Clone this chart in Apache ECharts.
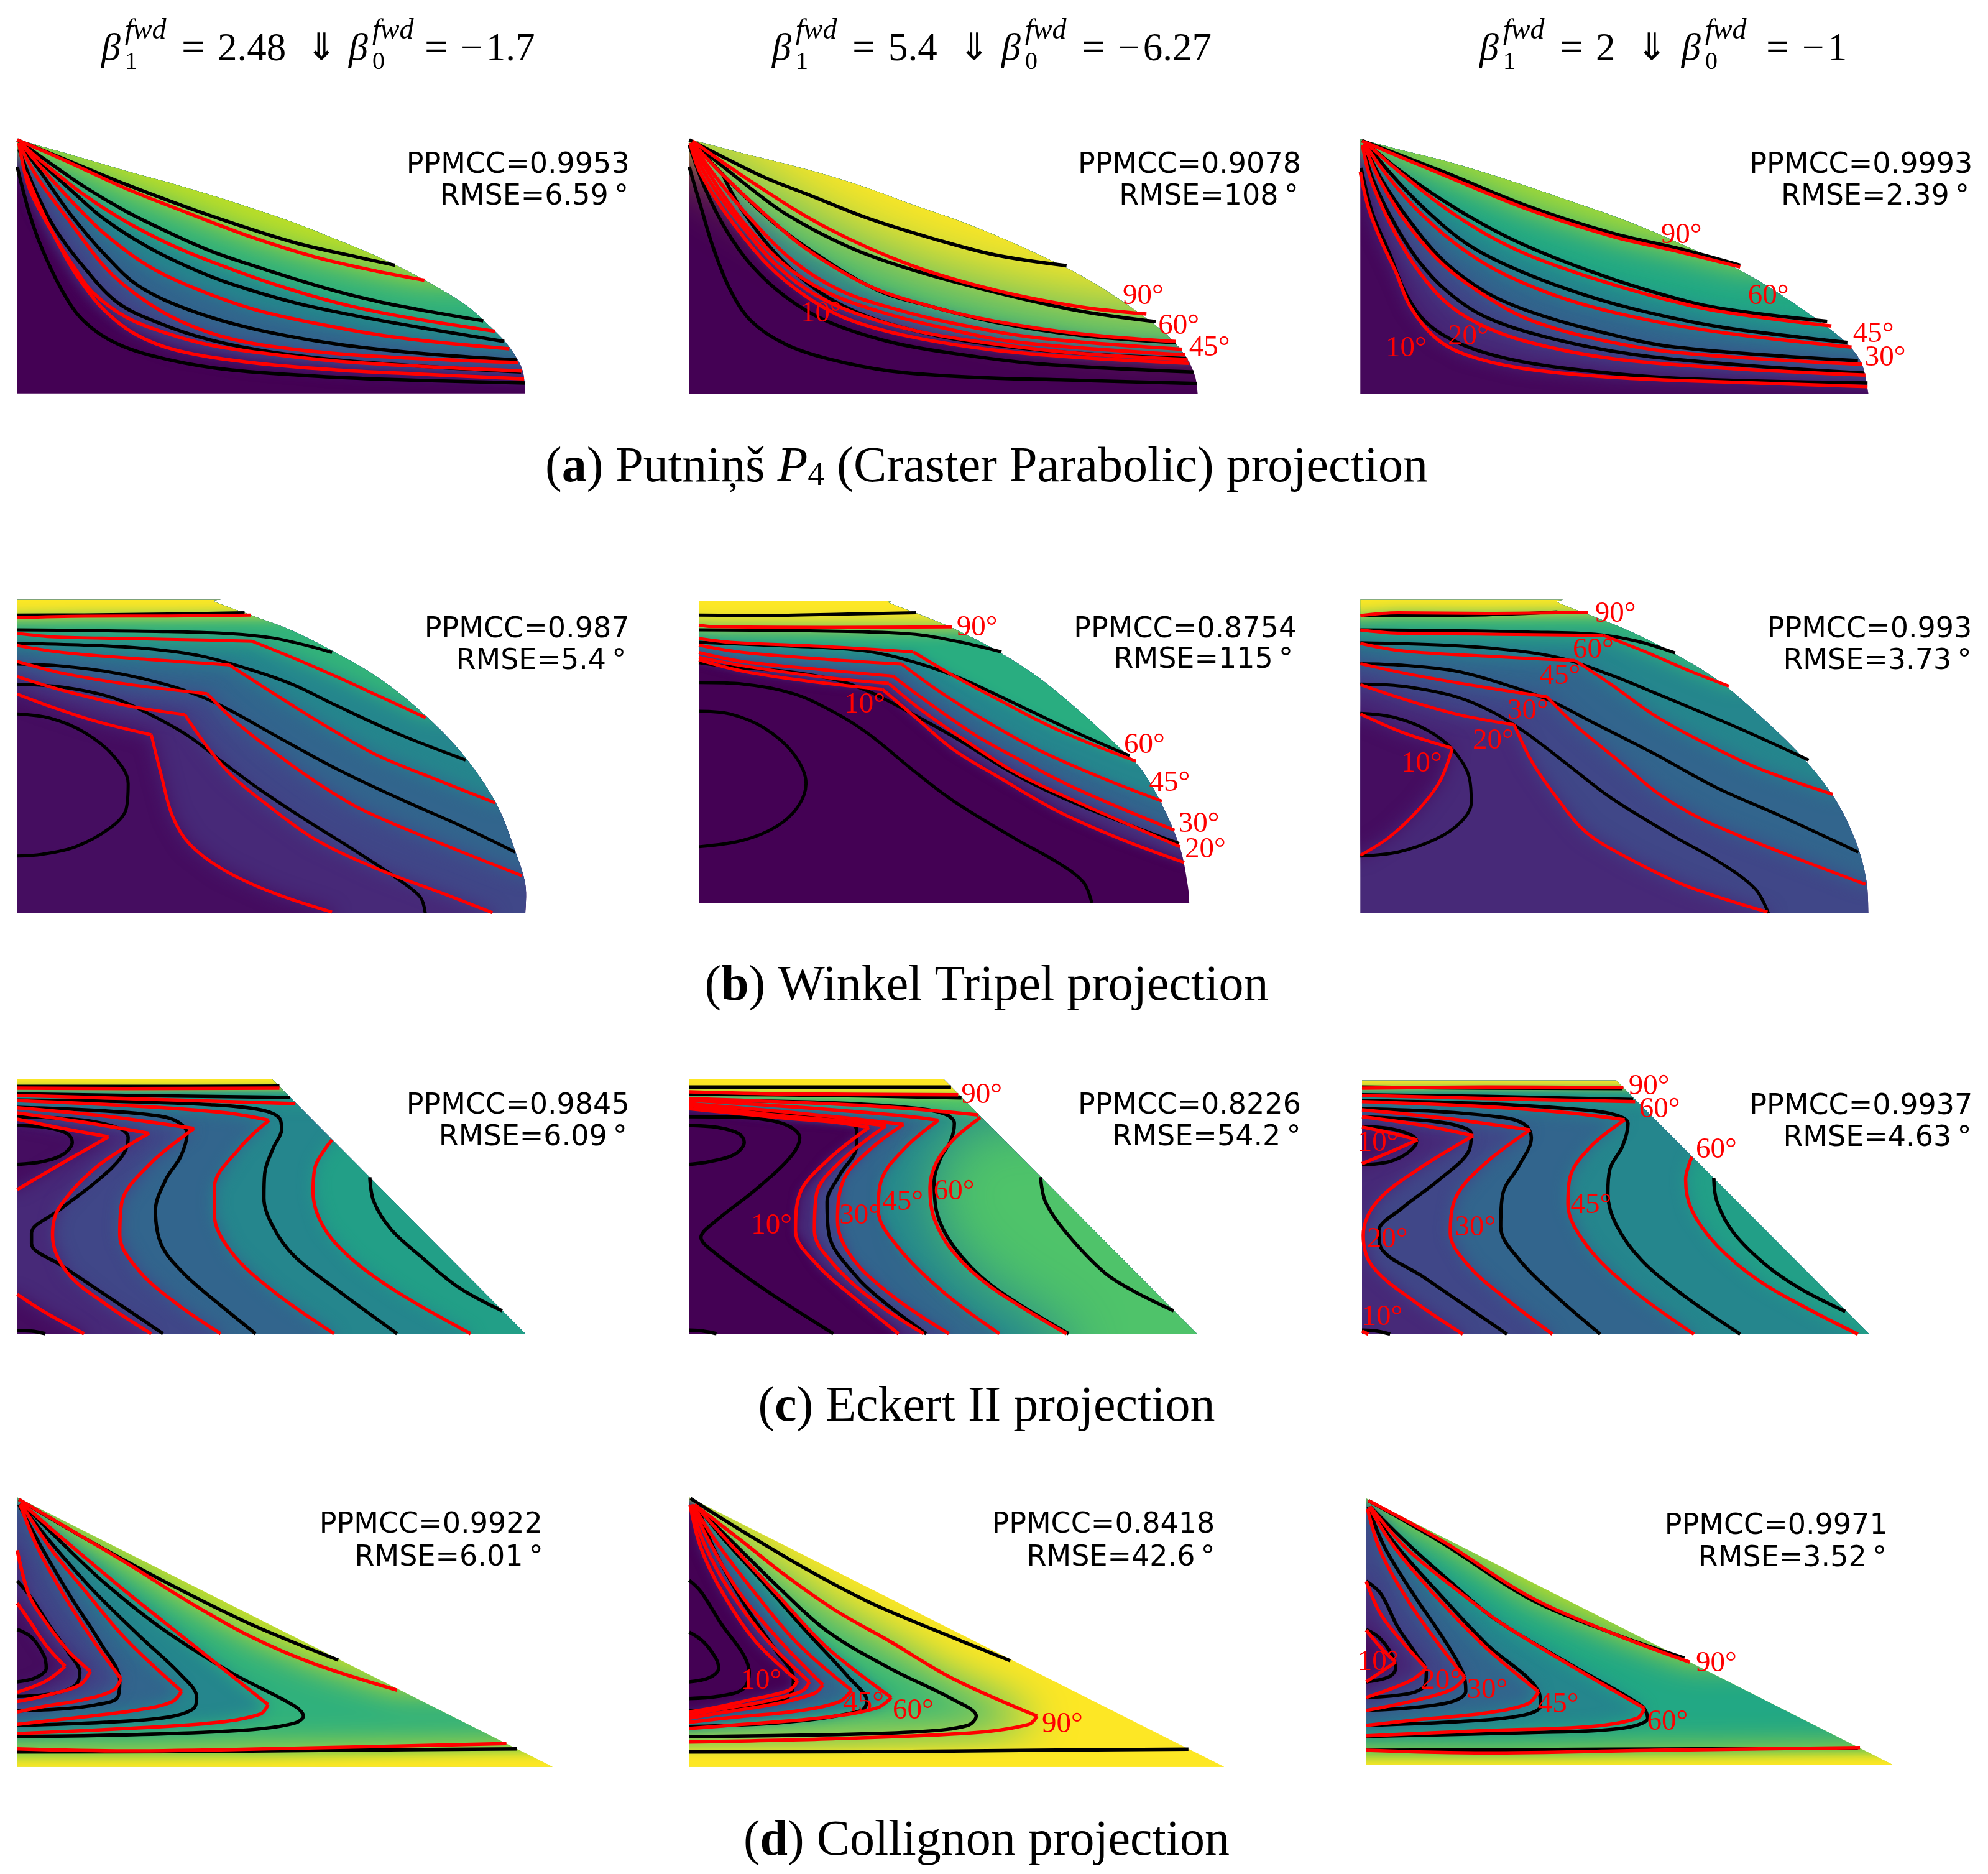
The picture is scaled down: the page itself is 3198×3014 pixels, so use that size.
<!DOCTYPE html>
<html><head><meta charset="utf-8">
<style>html,body{margin:0;padding:0;background:#fff}#main{width:3198px;height:3014px}</style>
<script src="https://cdn.jsdelivr.net/npm/echarts@6/dist/echarts.min.js"></script>
</head><body><div id="main"></div>
<script>
// ---------- DATA (a 0 inside a contour marks a sharp corner) ----------
const levelsDeg = [10,20,30,45,60,90];

const A1_outline=[[41,72],[100,107],[200,165],[300,225],[400,280],[500,340],[600,405],[700,475],[800,555],[900,640],[1000,740],[1100,860],[1150,945],[1200,1045],[1230,1130],[1245,1200],[1250,1298],0,[41,1298]];
const A1_black=[[[41,75],[150,165],[300,290],[500,440],[700,570],[850,640],[940,680]],
[[41,75],[100,160],[200,300],[300,420],[400,520],[500,610],[600,680],[700,745],[800,805],[900,855],[1000,895],[1150,948]],
[[60,110],[100,190],[170,320],[250,460],[350,590],[450,690],[550,770],[700,860],[850,925],[1000,980],[1200,1048]],
[[50,100],[100,240],[170,440],[250,630],[330,780],[450,895],[600,985],[800,1060],[1000,1105],[1230,1137]],
[[45,120],[80,300],[130,500],[200,690],[280,860],[380,960],[500,1040],[650,1100],[850,1145],[1240,1195]],
[[41,205],[70,430],[100,600],[150,810],[200,950],[280,1060],[400,1135],[550,1185],[800,1220],[1000,1235],[1250,1248]]];
const A1_red=[[[[60,230],[100,420],[140,580],[180,720],[240,880],[320,1010],[420,1090],[600,1150],[800,1185],[1000,1205],[1247,1228]]],
[[[45,90],[70,310],[130,540],[180,700],[220,810],[300,930],[400,1010],[500,1065],[650,1110],[850,1150],[1242,1190]]],
[[[45,90],[90,260],[170,480],[250,690],[330,830],[430,950],[550,1035],[700,1085],[900,1120],[1233,1150]]],
[[[50,90],[90,190],[170,370],[250,530],[350,680],[450,780],[600,890],[750,960],[950,1030],[1212,1083]]],
[[[50,90],[100,180],[200,340],[300,470],[400,575],[500,660],[650,770],[800,860],[950,925],[1178,998]]],
[[[41,75],[150,170],[300,310],[450,430],[600,545],[750,640],[900,710],[1010,752]]]];
const A1_labels=[];
const A1_stats=['PPMCC=0.9953',970,187,'RMSE=6.59\u2009°',1050,340];

const A2_outline=[[72,72],[200,140],[300,190],[400,245],[500,310],[600,385],[700,455],[800,535],[900,625],[1000,725],[1100,850],[1200,1000],[1250,1110],[1275,1210],[1282,1300],0,[72,1300]];
const A2_black=[[[72,75],[150,155],[250,255],[350,335],[500,455],[650,550],[800,630],[970,682]],
[[80,85],[200,280],[300,430],[450,590],[600,700],[800,810],[1000,900],[1182,952]],
[[100,130],[170,280],[270,470],[370,620],[520,800],[650,880],[800,955],[1000,1018],[1230,1054]],
[[150,235],[200,420],[290,650],[390,820],[500,930],[650,1015],[800,1065],[1000,1105],[1255,1130]],
[[72,100],[110,310],[160,510],[220,680],[300,830],[400,950],[550,1050],[700,1105],[900,1155],[1272,1195]],
[[72,205],[100,400],[130,600],[170,800],[220,950],[300,1060],[400,1130],[550,1190],[750,1220],[1000,1235],[1280,1250]]];
const A2_red=[[[[74,90],[100,240],[170,460],[260,680],[350,830],[450,940],[600,1025],[800,1090],[1000,1125],[1262,1153]]],
[[[76,90],[110,240],[190,470],[280,680],[370,820],[480,920],[620,1000],[800,1060],[1000,1105],[1258,1135]]],
[[[78,90],[120,240],[200,470],[300,680],[400,810],[520,900],[650,970],[850,1050],[1252,1112]]],
[[[80,90],[130,240],[220,460],[320,660],[430,800],[560,890],[700,960],[900,1030],[1245,1085]]],
[[[80,90],[150,240],[250,430],[350,600],[500,780],[650,880],[800,950],[1000,1010],[1230,1048]]],
[[[80,80],[230,290],[400,500],[600,680],[800,800],[1000,880],[1160,915]]]];
const A2_labels=[['90°',1152,830],['60°',1237,975],['45°',1310,1080],['10°',386,915]];
const A2_stats=['PPMCC=0.9078',1000,187,'RMSE=108\u2009°',1098,340];

const A3_outline=[[101,72],[200,125],[300,175],[400,235],[500,300],[600,370],[700,440],[800,520],[900,610],[1000,700],[1100,820],[1200,960],[1260,1060],[1295,1160],[1310,1300],0,[101,1300]];
const A3_black=[[[105,78],[300,230],[500,395],[700,525],[860,600],[1005,680]],
[[115,90],[200,230],[300,370],[400,490],[500,590],[650,710],[800,810],[950,885],[1212,950]],
[[115,90],[170,230],[250,400],[350,570],[450,680],[600,800],[750,890],[950,975],[1260,1052]],
[[110,95],[150,260],[220,470],[300,660],[400,810],[500,900],[650,990],[850,1075],[1285,1140]],
[[108,100],[130,260],[180,470],[240,660],[310,810],[400,930],[550,1030],[750,1110],[1000,1160],[1300,1200]],
[[103,210],[130,430],[170,620],[210,820],[260,960],[340,1060],[450,1130],[600,1180],[850,1225],[1308,1248]]];
const A3_red=[[[[101,230],[120,400],[150,560],[185,710],[220,880],[280,1030],[350,1110],[480,1175],[700,1220],[1000,1245],[1308,1265]]],
[[[106,100],[125,260],[170,470],[230,680],[300,850],[380,960],[500,1050],[700,1130],[1000,1180],[1303,1210]]],
[[[110,95],[150,280],[220,500],[300,680],[400,830],[500,940],[650,1030],[850,1100],[1295,1158]]],
[[[112,95],[170,260],[250,440],[350,610],[450,730],[600,850],[800,950],[1000,1015],[1270,1075]]],
[[[115,90],[200,240],[300,400],[400,530],[500,630],[650,740],[800,830],[950,900],[1222,973]]],
[[[105,80],[300,245],[500,410],[700,540],[860,615],[1005,688]]]];
const A3_labels=[['90°',865,535],['60°',1072,830],['45°',1322,1012],['30°',1350,1128],['20°',358,1025],['10°',210,1083]];
const A3_stats=['PPMCC=0.9993',1030,187,'RMSE=2.39\u2009°',1105,340];

const B1_outline=[[41,72],0,[525,72],0,[512,82],[600,145],[700,220],[800,320],[900,435],[1000,590],[1100,790],[1180,1020],[1225,1240],[1250,1400],[1250,1535],0,[41,1535]];
const B1_black=[[[41,143],[200,142],[400,138],[582,132]],
[[41,212],[200,215],[400,220],[550,230],[650,250],[730,285],[790,318]],
[[41,275],[200,283],[350,300],[480,335],[600,400],[700,470],[800,565],[950,700],[1108,820]],
[[41,372],[150,382],[280,415],[400,470],[480,525],[550,590],[650,700],[800,860],[950,1000],[1100,1130],[1226,1250]],
[[41,467],[150,480],[270,530],[360,610],[450,710],[530,830],[620,960],[720,1090],[850,1250],[950,1380],[1000,1460],[1012,1535]],
[[41,605],[120,625],[200,690],[270,800],[305,930],[300,1050],[260,1140],[180,1225],[100,1260],[41,1268]]];
const B1_red=[[[[41,512],[120,570],[230,640],[360,702],0,[385,900],[410,1080],[450,1210],[530,1330],[650,1440],[790,1530]]],
[[[41,430],[150,495],[300,565],[440,608],0,[490,750],[550,890],[630,1020],[750,1190],[900,1330],[1050,1440],[1172,1533]]],
[[[41,360],[150,415],[300,465],[493,510],0,[560,640],[650,780],[750,920],[850,1040],[1000,1170],[1242,1360]]],
[[[41,285],[150,318],[350,350],[545,375],0,[620,470],[700,570],[800,690],[900,800],[1050,920],[1178,1020]]],
[[[41,228],[130,245],[300,252],[500,260],[600,265],0,[700,345],[800,430],[900,520],[1013,622]]],
[[[41,155],[200,148],[400,147],[597,143]]]];
const B1_labels=[];
const B1_stats=['PPMCC=0.987',1013,200,'RMSE=5.4\u2009°',1088,348];

const B2_outline=[[95,78],0,[553,78],0,[550,88],[620,140],[700,205],[800,305],[900,430],[1000,590],[1100,770],[1150,870],[1200,1040],[1240,1230],[1258,1400],[1262,1487],0,[95,1487]];
const B2_black=[[[95,143],[250,145],[450,138],[612,132]],
[[95,212],[300,215],[500,222],[620,235],[720,270],[815,315]],
[[95,270],[250,283],[420,298],[520,320],[620,370],[720,440],[830,540],[980,680],[1120,800]],
[[95,365],[170,385],[300,405],[420,445],[500,500],[580,580],[700,710],[850,890],[1000,1030],[1238,1210]],
[[95,458],[200,465],[320,510],[420,600],[500,700],[600,860],[700,1010],[850,1190],[950,1300],[1010,1390],[1030,1487]],
[[95,592],[170,605],[250,670],[320,790],[350,930],[330,1040],[280,1130],[200,1195],[95,1225]]];
const B2_red=[[[[95,352],[200,405],[350,450],[532,490],0,[610,620],[700,770],[800,890],[950,1060],[1100,1190],[1250,1298]]],
[[[95,340],[200,380],[400,435],[547,462],0,[620,580],[730,730],[850,880],[1000,1020],[1240,1225]]],
[[[95,318],[200,360],[400,400],[557,428],0,[640,550],[750,700],[850,810],[1000,960],[1227,1148]]],
[[[95,283],[190,315],[400,350],[578,372],0,[660,490],[780,640],[900,770],[1050,900],[1197,1012]]],
[[[95,252],[170,270],[400,290],[605,315],0,[700,425],[800,530],[950,680],[1135,825]]],
[[[95,190],[130,197],[400,200],[697,198]]]];
const B2_labels=[['90°',757,203],['60°',1155,750],['45°',1215,927],['30°',1285,1120],['20°',1300,1240],['10°',490,562]];
const B2_stats=['PPMCC=0.8754',990,200,'RMSE=115\u2009°',1085,342];

const B3_outline=[[101,72],0,[583,72],0,[572,85],[650,145],[750,225],[850,325],[950,445],[1050,610],[1150,800],[1230,1000],[1280,1200],[1305,1380],[1310,1535],0,[101,1535]];
const B3_black=[[[110,145],[400,142],[570,128]],
[[101,212],[300,215],[500,222],[660,232],[760,265],[850,320]],
[[101,272],[300,283],[450,305],[580,345],[700,425],[800,505],[1000,670],[1168,820]],
[[101,370],[200,377],[330,405],[450,470],[550,540],[650,640],[800,790],[950,950],[1100,1080],[1286,1250]],
[[101,465],[200,475],[330,525],[420,600],[500,700],[600,850],[700,1000],[850,1180],[950,1290],[1040,1420],[1072,1535]],
[[101,602],[180,620],[260,680],[320,770],[360,900],[365,1020],[340,1110],[280,1190],[190,1250],[101,1268]]];
const B3_red=[[],
[[[101,468],[220,545],[340,610],[467,655],0,[510,830],[570,1000],[640,1160],[750,1290],[880,1410],[1070,1530]]],
[[[101,370],[220,420],[380,475],[545,525],0,[620,670],[720,830],[820,990],[950,1130],[1303,1400]]],
[[[101,275],[200,310],[400,335],[612,355],0,[700,470],[800,610],[900,720],[1050,860],[1225,980]]],
[[[101,212],[190,228],[400,232],[680,238],0,[780,315],[880,400],[978,475]]],
[[[101,145],[190,132],[400,135],[642,130]]]];
const B3_loops=[[[101,605],[200,690],[320,765],0,[290,920],[240,1050],[170,1180],[101,1265]]];
const B3_labels=[['90°',708,137],['60°',655,308],['45°',576,430],['30°',500,590],['20°',417,730],['10°',247,838]];
const B3_stats=['PPMCC=0.993',1072,200,'RMSE=3.73\u2009°',1110,348];

const C1_outline=[[41,48],0,[648,48],0,[1250,1275],0,[41,1275]];
const C1_black=[[[41,82],[300,82],[665,80]],[[41,118],[300,125],[690,135]],
[[41,148],[300,155],[500,170],[620,195],[665,235],[670,290],[650,380],[630,500],[628,620],[650,760],[700,900],[800,1060],[945,1275]],
[[41,183],[250,200],[380,225],[425,255],[445,310],[430,420],[395,530],[370,680],[385,850],[440,990],[520,1130],[608,1275]],
[[41,228],[200,245],[285,285],[305,330],[290,420],[230,540],[140,680],[75,790],[75,840],[150,950],[260,1100],[388,1275]],
[[41,270],[110,280],[160,310],[172,350],[150,410],[100,445],[41,458]],
[[41,1260],[75,1262],[108,1275]],
[[880,520],[890,640],[930,770],[1000,900],[1090,1050],[1195,1165]]];
const C1_red=[[],
[[[41,210],[200,255],[355,308],0,[230,470],[140,670],[125,800],[160,980],[250,1130],[360,1275]]],
[[[41,185],[250,225],[462,285],0,[360,450],[290,640],[285,800],[330,970],[420,1130],[525,1275]]],
[[[41,150],[350,180],[540,210],[640,245],0,[570,380],[510,570],[510,700],[550,880],[650,1070],[795,1275]]],
[[[41,125],[300,140],[703,165]],[[790,340],[750,470],[745,590],[770,760],[840,920],[950,1080],[1120,1275]]],
[[[41,90],[300,92],[665,90]]]];
const C1_loops=[[[41,240],[150,285],[258,325],0,[150,450],[41,580]],[[41,1085],[110,1175],[200,1275]]];
const C1_labels=[];
const C1_stats=['PPMCC=0.9845',970,165,'RMSE=6.09\u2009°',1047,318];

const C2_outline=[[72,48],0,[678,48],0,[1280,1275],0,[72,1275]];
const C2_black=[[[72,85],[400,85],[695,85]],[[72,120],[400,125],[720,137]],
[[72,148],[400,160],[600,185],[680,215],[703,260],[695,340],[670,430],[655,540],[660,680],[700,850],[790,1040],[975,1275]],
[[72,190],[300,215],[440,245],[470,290],[470,370],[430,510],[400,640],[405,800],[470,1000],[540,1130],[636,1275]],
[[72,228],[200,232],[300,265],[335,330],[310,430],[230,580],[130,740],[100,810],[130,880],[250,1060],[415,1275]],
[[72,270],[140,280],[190,310],[203,350],[180,410],[120,445],[72,458]],
[[72,1258],[105,1262],[137,1275]],
[[908,520],[920,640],[970,790],[1060,980],[1130,1070],[1225,1165]]];
const C2_red=[[[[72,190],[300,235],[420,255],[500,280],0,[400,440],[335,600],[325,780],[380,950],[470,1110],[570,1275]]],
[[[72,175],[300,225],[450,250],[540,272],0,[440,430],[375,600],[370,780],[420,950],[520,1130],[630,1275]]],
[[[72,165],[300,205],[450,235],[582,265],0,[500,390],[440,530],[425,730],[460,910],[560,1100],[690,1275]]],
[[[72,148],[350,185],[560,220],[665,245],0,[590,370],[530,530],[522,680],[570,860],[680,1080],[810,1275]]],
[[[72,140],[400,165],[600,190],[760,220]],[[765,232],[700,340],[660,450],[645,570],[655,720],[700,880],[790,1050],[970,1275]]],
[[[72,108],[300,118],[712,122]]]];
const C2_labels=[['90°',768,125],['60°',702,590],['45°',580,640],['30°',478,708],['10°',268,755]];
const C2_stats=['PPMCC=0.8226',1000,165,'RMSE=54.2\u2009°',1082,318];

const C3_outline=[[105,53],0,[710,53],0,[1312,1277],0,[105,1277]];
const C3_black=[[[105,85],[400,90],[725,92]],[[105,122],[400,130],[750,145]],
[[105,150],[400,165],[600,190],[700,215],[738,260],[725,370],[695,480],[690,600],[710,750],[770,920],[870,1090],[1005,1277]],
[[105,190],[300,205],[450,235],[495,270],[508,330],[480,460],[440,600],[435,760],[480,920],[570,1100],[672,1277]],
[[105,228],[250,245],[330,270],[365,310],[360,390],[290,530],[200,670],[145,780],[150,860],[250,1000],[450,1277]],
[[105,275],[170,285],[220,315],[235,345],[215,400],[170,445],[105,460]],
[[105,1258],[140,1262],[172,1277]],
[[942,522],[950,640],[990,790],[1070,950],[1150,1060],[1255,1168]]];
const C3_red=[[],
[[[105,228],[250,270],[370,320],0,[240,480],[140,640],[108,800],[130,950],[230,1120],[345,1277]]],
[[[105,195],[300,235],[505,292],0,[400,450],[330,610],[315,790],[360,950],[450,1110],[558,1277]]],
[[[105,155],[400,180],[600,210],[730,243],0,[650,370],[600,520],[595,650],[640,850],[740,1050],[895,1277]]],
[[[105,125],[400,140],[755,155]],[[890,422],[875,530],[890,680],[950,850],[1050,1020],[1180,1170],[1285,1277]]],
[[[105,90],[400,85],[727,88]]]];
const C3_loops=[[[105,278],[170,305],[237,340],0,[170,400],[105,455]],[[105,1262],[120,1277]]];
const C3_labels=[['90°',788,83],['60°',813,195],['60°',948,390],['45°',650,657],['30°',375,765],['20°',165,820],['10°',143,355],['10°',153,1195]];
const C3_stats=['PPMCC=0.9937',1030,168,'RMSE=4.63\u2009°',1110,320];

const D1_outline=[[41,55],0,[1315,1355],0,[41,1355]];
const D1_black=[[[45,65],[200,250],[400,470],[600,670],[805,840]],[[41,1283],[400,1282],[800,1275],[1230,1268]],
[[50,80],[150,280],[250,470],[380,680],[550,900],[700,1060],[722,1110],[700,1145],[600,1175],[400,1195],[200,1205],[41,1208]],
[[50,90],[120,270],[220,500],[330,720],[430,910],[468,1020],[460,1075],[400,1115],[250,1140],[41,1155]],
[[45,90],[100,300],[170,540],[240,760],[285,940],[280,1020],[230,1055],[150,1075],[41,1085]],
[[41,458],[75,540],[120,680],[165,810],[190,900],[180,960],[130,1000],[41,1015]],
[[41,692],[75,730],[105,820],[110,880],[85,925],[41,945]]];
const D1_red=[[[[41,565],[70,650],[110,770],[155,870],0,[110,940],[41,995]]],
[[[41,310],[70,530],[110,660],[160,790],[215,895],0,[190,960],[120,1005],[41,1040]]],
[[[48,90],[90,300],[150,520],[220,740],[288,930],0,[270,985],[200,1030],[100,1065],[41,1090]]],
[[[50,85],[120,300],[200,500],[300,740],[432,990],0,[410,1040],[330,1080],[150,1125],[41,1150]]],
[[[50,80],[170,290],[300,510],[430,720],[638,1055],0,[620,1100],[520,1140],[300,1170],[41,1195]]],
[[[45,65],[150,190],[300,370],[450,560],[600,730],[750,860],[945,985]],[[41,1268],[300,1278],[700,1265],[1205,1243]]]];
const D1_labels=[];
const D1_stats=['PPMCC=0.9922',763,177,'RMSE=6.01\u2009°',847,337];
const D1_yellow=[[41,1325],[600,1320],[1245,1300]];

const D2_outline=[[72,55],0,[1345,1355],0,[72,1355]];
const D2_black=[[[75,60],[200,220],[350,400],[500,560],[650,690],[836,843]],[[72,1283],[500,1282],[900,1275],[1260,1270]],
[[95,110],[180,280],[280,480],[400,700],[550,880],[700,1030],[755,1110],[735,1155],[620,1185],[400,1200],[72,1210]],
[[100,120],[160,270],[250,470],[350,700],[450,920],[495,1040],[480,1085],[300,1140],[72,1160]],
[[95,110],[130,300],[200,560],[280,800],[320,930],[315,1000],[280,1040],[180,1070],[72,1085]],
[[72,455],[100,510],[150,670],[200,810],[215,900],[200,980],[140,1015],[72,1025]],
[[72,705],[105,750],[135,830],[142,880],[120,925],[72,945]]];
const D2_red=[[[[74,90],[100,300],[150,510],[230,750],[330,940],0,[310,985],[220,1030],[130,1070],[72,1090]]],
[[[76,90],[110,290],[170,510],[260,750],[358,945],0,[340,990],[250,1040],[150,1075],[72,1105]]],
[[[78,90],[120,270],[190,510],[280,730],[390,960],0,[370,1000],[280,1050],[160,1090],[72,1120]]],
[[[80,90],[140,280],[230,520],[330,760],[458,985],0,[430,1040],[330,1085],[180,1115],[72,1140]]],
[[[85,90],[170,280],[280,520],[400,780],[553,1020],0,[520,1070],[400,1115],[200,1150],[72,1170]]],
[[[85,90],[200,270],[300,430],[420,600],[550,750],[700,930],[900,1110],0,[880,1150],[750,1190],[400,1220],[72,1235]]]];
const D2_labels=[['90°',960,1150],['60°',605,1085],['45°',487,1050],['10°',243,940]];
const D2_stats=['PPMCC=0.8418',795,177,'RMSE=42.6\u2009°',878,337];
const D2_yellow=[[72,1285],[600,1283],[1270,1275]];

const D3_outline=[[115,60],0,[1370,1347],0,[115,1347]];
const D3_black=[[[120,70],[300,280],[500,540],[700,710],[872,830]],[[115,1275],[500,1272],[900,1268],[1285,1265]],
[[125,100],[220,290],[320,470],[420,640],[600,860],[770,1060],[785,1120],[720,1170],[500,1190],[115,1208]],
[[125,100],[180,270],[280,500],[400,760],[525,990],[530,1060],[490,1105],[350,1135],[115,1155]],
[[120,100],[160,300],[230,530],[300,740],[345,900],[352,990],[320,1040],[220,1070],[115,1082]],
[[115,458],[150,520],[190,680],[230,800],[258,900],[255,960],[220,1000],[115,1020]],
[[115,692],[145,730],[175,810],[185,880],[170,920],[115,945]]];
const D3_red=[[[[115,695],[150,780],[185,850],0,[115,945]]],
[[[115,460],[150,620],[200,750],[258,880],0,[220,940],[115,1020]]],
[[[118,110],[150,320],[220,570],[290,770],[350,925],0,[320,980],[240,1030],[115,1083]]],
[[[122,100],[180,290],[280,530],[400,780],[525,992],0,[500,1050],[400,1095],[250,1125],[115,1155]]],
[[[125,100],[210,300],[330,500],[450,680],[777,1072],0,[760,1120],[650,1160],[400,1180],[115,1205]]],
[[[120,70],[300,270],[500,530],[700,710],[885,850]],[[115,1275],[400,1288],[800,1275],[1290,1262]]]];
const D3_labels=[['90°',948,858],['60°',832,1140],['45°',572,1055],['30°',403,985],['20°',293,940],['10°',143,850]];
const D3_stats=['PPMCC=0.9971',828,183,'RMSE=3.52\u2009°',908,340];
const D3_yellow=[[115,1320],[600,1318],[1340,1300]];

// colour value of each band, from below the 10° contour to above the 90° contour
const bandsA1=[0,.115,.21,.325,.455,.64,.9];
const bandsA2=[0,.11,.2,.32,.46,.64,1];
const bandsA3=[.02,.115,.21,.325,.455,.6,.86];
const bandsB=[.035,.115,.21,.325,.455,.65,1];
const bandsB2=[0,.115,.21,.325,.455,.62,1];
const bandsC=[.035,.115,.21,.325,.455,.56,1];
const bandsC2=[0,.115,.21,.325,.455,.72,1];
const bandsD1=[.03,.115,.21,.325,.455,.64,.93];
const bandsD2=[0,.115,.21,.325,.455,.66,1];
const bandsD3=[.03,.115,.21,.325,.455,.6,.9];
const headerLeft=['2.48','5.4','2'];
const headerRight=['−\u200a1.7','−\u200a6.27','−\u200a1'];
const captions=[['a',' Putniņš ','P','4',' (Craster Parabolic) projection'],['b',' Winkel Tripel projection'],['c',' Eckert II projection'],['d',' Collignon projection']];

// ---------- LAYOUT ----------
const cropW=1060, imgW=1568, colX=[0,1060,2120];
const rowCrop=[{y:200,h:460,ih:1380},{y:940,h:540,ih:1568},{y:1720,h:460,ih:1380},{y:2390,h:480,ih:1440}];
const panels=[
 {r:0,c:0,o:A1_outline,b:A1_black,red:A1_red,lab:A1_labels,st:A1_stats,bands:bandsA1,blur:26,topBlur:50},
 {r:0,c:1,o:A2_outline,b:A2_black,red:A2_red,lab:A2_labels,st:A2_stats,bands:bandsA2,blur:16,topBlur:110},
 {r:0,c:2,o:A3_outline,b:A3_black,red:A3_red,lab:A3_labels,st:A3_stats,bands:bandsA3,blur:26,topBlur:50},
 {r:1,c:0,o:B1_outline,b:B1_black,red:B1_red,lab:B1_labels,st:B1_stats,bands:bandsB,blur:30,topBlur:24},
 {r:1,c:1,o:B2_outline,b:B2_black,red:B2_red,lab:B2_labels,st:B2_stats,bands:bandsB2,blur:16,topBlur:30},
 {r:1,c:2,o:B3_outline,b:B3_black,red:B3_red,loops:B3_loops,lab:B3_labels,st:B3_stats,bands:bandsB,blur:30,topBlur:24},
 {r:2,c:0,o:C1_outline,b:C1_black,red:C1_red,loops:C1_loops,lab:C1_labels,st:C1_stats,bands:bandsC,blur:26,topBlur:14},
 {r:2,c:1,o:C2_outline,b:C2_black,red:C2_red,lab:C2_labels,st:C2_stats,bands:bandsC2,blur:16,topBlur:14,blur60:90},
 {r:2,c:2,o:C3_outline,b:C3_black,red:C3_red,loops:C3_loops,lab:C3_labels,st:C3_stats,bands:bandsC,blur:26,topBlur:14},
 {r:3,c:0,o:D1_outline,b:D1_black,red:D1_red,lab:D1_labels,st:D1_stats,bands:bandsD1,blur:26,topBlur:50,inward:true,yellow:D1_yellow},
 {r:3,c:1,o:D2_outline,b:D2_black,red:D2_red,lab:D2_labels,st:D2_stats,bands:bandsD2,blur:18,topBlur:70,inward:true,yellow:D2_yellow},
 {r:3,c:2,o:D3_outline,b:D3_black,red:D3_red,lab:D3_labels,st:D3_stats,bands:bandsD3,blur:26,topBlur:50,inward:true,yellow:D3_yellow}
];

const VIR=[[68,1,84],[72,36,117],[65,68,135],[53,95,141],[42,120,142],[33,145,140],[34,168,132],[68,191,112],[122,209,81],[189,223,38],[253,231,37]];
function vir(v){v=Math.max(0,Math.min(1,v))*10;const i=Math.min(9,Math.floor(v)),t=v-i;
 const c=VIR[i].map((a,k)=>Math.round(a+(VIR[i+1][k]-a)*t));return `rgb(${c[0]},${c[1]},${c[2]})`;}
const flat=p=>p.filter(q=>q!==0);
function segments(p){const out=[];let cur=[];p.forEach(q=>{if(q===0){out.push(cur);cur=[cur[cur.length-1]];}else cur.push(q);});out.push(cur);return out;}
// rounds the drawn edge of a map outline between its corners (the clip shape only)
function roundEdge(o){const out=[];segments(o).forEach(s=>{
  if(s.length<3){out.push(...s);return;}
  for(let i=0;i<s.length-1;i++){const a=s[Math.max(0,i-1)],b=s[i],c=s[i+1],d=s[Math.min(s.length-1,i+2)];
   for(let k=0;k<8;k++){const t=k/8,t2=t*t,t3=t2*t;
    out.push([0,1].map(j=>.5*(2*b[j]+(c[j]-a[j])*t+(2*a[j]-5*b[j]+4*c[j]-d[j])*t2+(3*b[j]-a[j]-3*c[j]+d[j])*t3)));}}
  out.push(s[s.length-1]);});return out;}
const F=500, OFF=9000;

function closeUp(piece,left,bottom){ // region on the high side of a contour
 const p=flat(piece),s=p[0],e=p[p.length-1],R=imgW+F,out=p.slice();
 const B=bottom+F;
 if(e[1]>=bottom-8) out.push([e[0],B],[R,B]); else out.push([R,e[1]]);
 if(s[0]-left>100){out.push([R,s[1]]);return out;}
 out.push([R,-F],[-F,-F],[-F,s[1]]);return out;}
function closeLoop(piece,bottom){const p=flat(piece),s=p[0],e=p[p.length-1],out=p.slice();
 if(e[1]>=bottom-8) out.push([e[0],bottom+F],[-F,bottom+F]); else out.push([-F,e[1]]);
 out.push([-F,s[1]]);return out;}
function closeIn(pieces){
 if(pieces.length===2){const t=flat(pieces[0]),b=flat(pieces[1]),R=imgW+F;
  return t.concat([[R,t[t.length-1][1]],[R,b[b.length-1][1]]],b.slice().reverse(),[[-F,b[0][1]],[-F,t[0][1]]]);}
 return closeLoop(pieces[0],1e9);}

function fieldPolys(P){
 const fo=flat(P.o),left=Math.min(...fo.map(q=>q[0])),bottom=Math.max(...fo.map(q=>q[1]));
 const list=[];
 if(P.inward){
  for(let i=5;i>=0;i--){
   list.push([closeIn(P.red[i]),P.bands[i],i===5?P.topBlur:P.blur]);
   if(i===5){const y=P.yellow;
    list.push([y.concat([[imgW+F,y[y.length-1][1]],[imgW+F,bottom+F],[-F,bottom+F],[-F,y[0][1]]]),1,16]);}
  }
 }else{
  (P.loops||[]).forEach(l=>list.push([closeLoop(l,bottom),P.bands[0],P.blur]));
  P.red.forEach((lv,i)=>lv.forEach(pc=>{
   const bl=i===5?P.topBlur:(i===4&&P.blur60&&lv.length>1&&pc===lv[1]?P.blur60:P.blur);
   list.push([closeUp(pc,left,bottom),P.bands[i+1],bl]);}));
 }
 return list;
}

const grids=[],xAxes=[],yAxes=[],series=[];
panels.forEach((P,idx)=>{
 const rc=rowCrop[P.r];
 grids.push({left:colX[P.c],top:rc.y,width:cropW,height:rc.h,show:false,containLabel:false});
 xAxes.push({type:'value',gridIndex:idx,min:0,max:imgW,show:false});
 yAxes.push({type:'value',gridIndex:idx,min:0,max:rc.ih,inverse:true,show:false});
 const polys=fieldPolys(P), edge=roundEdge(P.o);
 const baseV=P.inward?P.bands[6]:((P.loops&&P.loops.length)?P.bands[1]:P.bands[0]);
 series.push({type:'custom',name:'field'+idx,coordinateSystem:'cartesian2d',xAxisIndex:idx,yAxisIndex:idx,z:1,silent:true,
  data:[[0,0]],
  renderItem:(params,api)=>{
   const toPx=pts=>pts.map(q=>api.coord(q));
   const kids=[{type:'polygon',shape:{points:toPx([[-F,-F],[imgW+F,-F],[imgW+F,rc.ih+F],[-F,rc.ih+F]])},style:{fill:vir(baseV)}}];
   polys.forEach(([pts,v,bl])=>{
    const c=vir(v);
    kids.push({type:'polygon',shape:{points:toPx(pts).map(q=>[q[0]-OFF,q[1]])},
     style:{fill:c,shadowColor:c,shadowBlur:bl,shadowOffsetX:OFF,shadowOffsetY:0}});
   });
   return {type:'group',clipPath:{type:'polygon',shape:{points:toPx(edge)}},children:kids};
  }});
 const w=P.r===1?5:5.5;
 const addLine=(pts,color,z)=>series.push({type:'line',xAxisIndex:idx,yAxisIndex:idx,data:pts,symbol:'none',smooth:0.35,z,silent:true,
   clip:false,lineStyle:{color,width:w,cap:'butt',join:'round'}});
 P.b.forEach(pc=>segments(pc).forEach(s=>addLine(s,'#000',3)));
 P.red.forEach(lv=>lv.forEach(pc=>segments(pc).forEach(s=>addLine(s,'#ff0000',4))));
 (P.loops||[]).forEach(pc=>segments(pc).forEach(s=>addLine(s,'#ff0000',4)));
 series.push({type:'custom',name:'text'+idx,coordinateSystem:'cartesian2d',xAxisIndex:idx,yAxisIndex:idx,z:6,silent:true,
  data:[[0,0]],
  renderItem:(params,api)=>{
   const kids=[];
   P.lab.forEach(l=>{const q=api.coord([l[1],l[2]]);
    kids.push({type:'text',x:q[0],y:q[1],style:{text:l[0],fontFamily:'Liberation Serif',fontSize:47,fill:'#ff0000',align:'center',verticalAlign:'middle'}});});
   [[0,1,2],[3,4,5]].forEach(t=>{const q=api.coord([P.st[t[1]],P.st[t[2]]]);
    kids.push({type:'text',x:q[0]-2,y:q[1]+4,style:{text:P.st[t[0]],fontFamily:'DejaVu Sans',fontSize:46,fill:'#000',align:'left',verticalAlign:'middle'}});});
   return {type:'group',children:kids};
  }});
});

// ---------- headers and captions ----------
const SERIF='Liberation Serif';
const graphics=[];
const txt=(x,y,t,size,opt)=>graphics.push({type:'text',x,y,z:10,silent:true,style:Object.assign({text:t,fontFamily:SERIF,fontSize:size,fill:'#000',align:'left',verticalAlign:'middle'},opt||{})});
const headerX=[[163,292,492,561,683],[1242,1371,1542,1611,1740],[2380,2509,2632,2705,2841]];
headerX.forEach((hx,i)=>{
 const y=80;
 [[hx[0],'1'],[hx[3],'0']].forEach(([bx,sub])=>{
  txt(bx,y,'β',62,{fontStyle:'italic'});
  txt(bx+38,y-30,'fwd',46,{fontStyle:'italic'});
  txt(bx+38,y+20,sub,40);
 });
 txt(hx[1],y,'=',66);
 txt(hx[1]+58,y,headerLeft[i],63);
 txt(hx[2],y,'⇓',60,{fontFamily:'DejaVu Sans'});
 txt(hx[4],y,'=',66);
 txt(hx[4]+58,y,headerRight[i],63);
});
const capY=[753,1587,2264,2962];
captions.forEach((c,i)=>{
 const tail=c.length>2?`${c[1]}{i|${c[2]}}{s|${c[3]}}${c[4]}`:c[1];
 graphics.push({type:'text',x:1587,y:capY[i],z:10,silent:true,style:{
  text:`({b|${c[0]}})${tail}`,fontFamily:SERIF,fontSize:80,fill:'#000',align:'center',verticalAlign:'middle',
  rich:{b:{fontFamily:SERIF,fontSize:80,fontWeight:'bold',fill:'#000'},
        i:{fontFamily:SERIF,fontSize:80,fontStyle:'italic',fill:'#000'},
        s:{fontFamily:SERIF,fontSize:54,fill:'#000',verticalAlign:'bottom',lineHeight:80}}}});
});

const chart=echarts.init(document.getElementById('main'),null,{renderer:'canvas',width:3198,height:3014});
chart.setOption({animation:false,backgroundColor:'#fff',tooltip:{show:false},legend:{show:false},
 grid:grids,xAxis:xAxes,yAxis:yAxes,series,graphic:{elements:graphics}});
</script></body></html>
